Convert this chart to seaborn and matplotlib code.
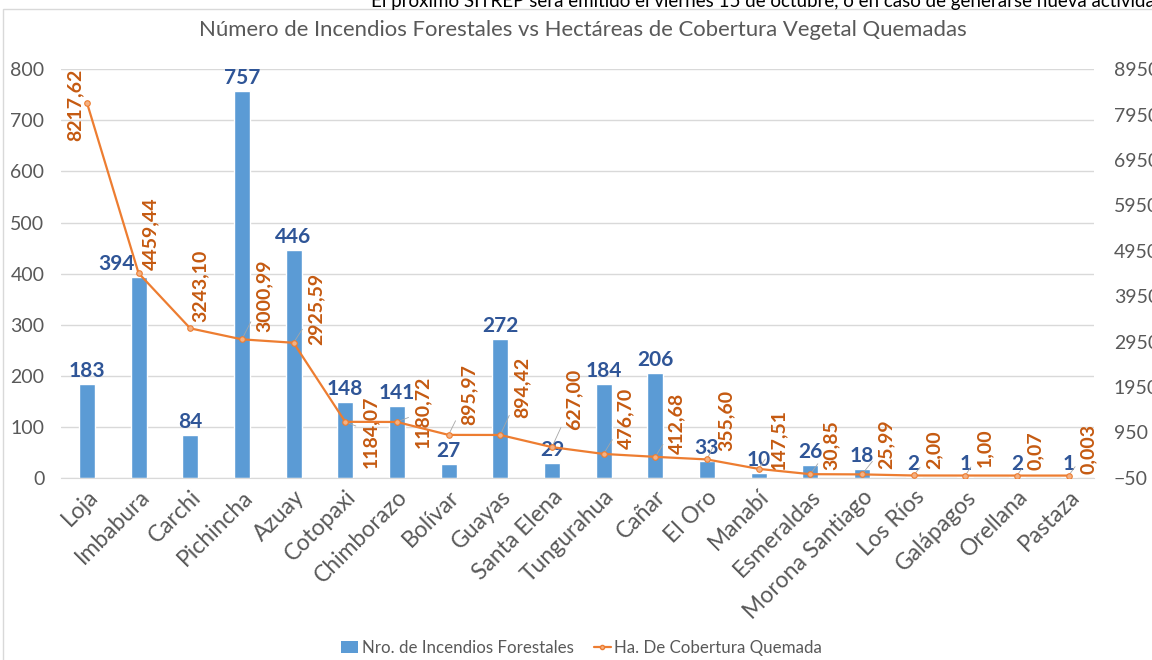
import numpy as np
import pandas as pd
import seaborn as sns
import matplotlib
matplotlib.use("Agg")
import matplotlib.pyplot as plt
from matplotlib.patches import Rectangle, Patch
from matplotlib.lines import Line2D

# data
provincias = ["Loja", "Imbabura", "Carchi", "Pichincha", "Azuay", "Cotopaxi",
              "Chimborazo", "Bolívar", "Guayas", "Santa Elena", "Tungurahua",
              "Cañar", "El Oro", "Manabí", "Esmeraldas", "Morona Santiago",
              "Los Ríos", "Galápagos", "Orellana", "Pastaza"]
incendios = [183, 394, 84, 757, 446, 148, 141, 27, 272, 29, 184, 206, 33, 10,
             26, 18, 2, 1, 2, 1]
hectareas = [8217.62, 4459.44, 3243.10, 3000.99, 2925.59, 1184.07, 1180.72,
             895.97, 894.42, 627.00, 476.70, 412.68, 355.60, 147.51, 30.85,
             25.99, 2.00, 1.00, 0.07, 0.003]
hect_labels = ["8217,62", "4459,44", "3243,10", "3000,99", "2925,59", "1184,07",
               "1180,72", "895,97", "894,42", "627,00", "476,70", "412,68",
               "355,60", "147,51", "30,85", "25,99", "2,00", "1,00", "0,07",
               "0,003"]

# label offsets in pixels (x, y of label bottom)
line_lbl_off = [(-12, -38), (12, 3), (10, 6), (22, 7), (22, -2), (25, -46),
                (26, -26), (20, 10), (22, 17), (22, 17), (22, 5), (21, 3),
                (19, 8), (20, -1), (21, 4), (24, 5), (20, 6), (19, 9),
                (18, 6), (20, 2)]

df = pd.DataFrame({"Provincia": provincias, "Incendios": incendios,
                   "Hectareas": hectareas})

sns.set_style("white")
plt.rcParams["font.family"] = ["Lato", "DejaVu Sans"]

blue = "#5B9BD5"
orange = "#ED7D31"
gray_txt = "#595959"

fig = plt.figure(figsize=(11.52, 6.6), dpi=100)
ax = fig.add_axes([0.053, 0.276, 0.897, 0.619])

sns.barplot(data=df, x="Provincia", y="Incendios", color=blue, width=0.31,
            saturation=1, ax=ax, zorder=2)
ax.set_ylim(0, 800)
ax.set_yticks(range(0, 801, 100))
ax.set_xlim(-0.5, len(provincias) - 0.5)
ax.grid(axis="y", color="#D9D9D9", lw=1, zorder=0)
ax.set_axisbelow(True)
ax.set_xlabel("")
ax.set_ylabel("")
for s in ["top", "right", "left"]:
    ax.spines[s].set_visible(False)
ax.spines["bottom"].set_color("#D9D9D9")
ax.tick_params(axis="both", length=0, colors=gray_txt, labelsize=14)
ax.tick_params(axis="y", pad=12)
ax.tick_params(axis="x", labelsize=16.5, pad=6)
plt.setp(ax.get_xticklabels(), rotation=45, ha="right", rotation_mode="anchor")

for i, v in enumerate(incendios):
    dx = -22 if i == 1 else 0
    ax.annotate(str(v), (i, v), xytext=(dx, 3), textcoords="offset pixels",
                ha="center", va="bottom", color="#2F5597", fontsize=15,
                fontweight="bold", zorder=5)

ax2 = ax.twinx()
sns.lineplot(x=np.arange(len(provincias)), y=hectareas, ax=ax2, color=orange,
             lw=1.6, marker="o", markersize=4, markerfacecolor="#F4B183",
             markeredgecolor=orange, markeredgewidth=0.8, zorder=4)
ax2.set_ylim(-50, 8950)
ax2.set_yticks(np.arange(-50, 8951, 1000))
for s in ["top", "right", "left", "bottom"]:
    ax2.spines[s].set_visible(False)
ax2.tick_params(axis="y", length=0, colors=gray_txt, labelsize=14, pad=14)

for i, (v, t) in enumerate(zip(hectareas, hect_labels)):
    ox, oy = line_lbl_off[i]
    ax2.annotate(t, (i, v), xytext=(ox, oy), textcoords="offset pixels",
                 rotation=90, ha="center", va="bottom", color="#C55A11",
                 fontsize=14, fontweight="bold",
                 arrowprops=dict(arrowstyle="-", color="#A6A6A6", lw=0.6,
                                 shrinkA=2, shrinkB=0))

fig.text(0.506, 0.955, "Número de Incendios Forestales vs Hectáreas de Cobertura Vegetal Quemadas",
         ha="center", va="center", fontsize=15.9, color=gray_txt)
fig.text(0.322, 0.997, "El próximo SITREP será emitido el viernes 15 de octubre, o en caso de generarse nueva actividad relevante",
         ha="left", va="center", fontsize=13.5, color="black")

handles = [Patch(facecolor=blue, edgecolor="none"),
           Line2D([0], [0], color=orange, lw=1.6, marker="o", markersize=3,
                  markerfacecolor="#F4B183", markeredgecolor=orange)]
fig.legend(handles, ["Nro. de Incendios Forestales", "Ha. De Cobertura Quemada"],
           loc="center", bbox_to_anchor=(0.505, 0.018), ncol=2, frameon=False,
           fontsize=12.2, handlelength=1.0, handletextpad=0.2, columnspacing=1.2,
           labelcolor=gray_txt)

fig.patches.append(Rectangle((0.003, -0.01), 1.1, 0.996, transform=fig.transFigure,
                             fill=False, edgecolor="#D9D9D9", lw=1))

fig.savefig("out.png", dpi=100)
